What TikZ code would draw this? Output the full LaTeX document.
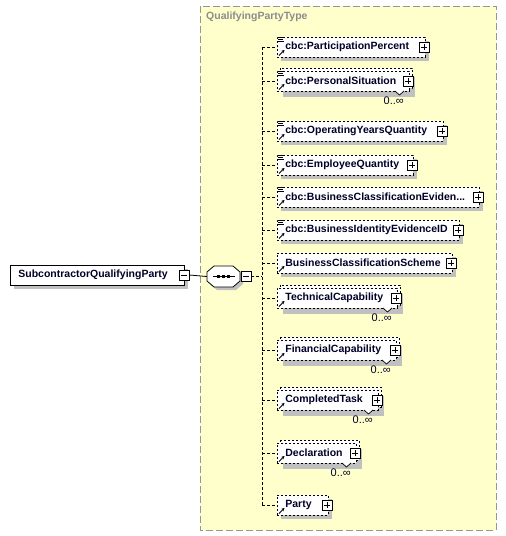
\documentclass[tikz,border=0pt]{standalone}
\usepackage{fontspec}
\setmainfont{Liberation Sans}
\usetikzlibrary{arrows.meta}
\definecolor{bgyellow}{RGB}{255,255,204}
\definecolor{framegray}{RGB}{150,150,150}
\definecolor{shadowgray}{RGB}{192,192,192}
\definecolor{txt}{RGB}{0,0,40}
\definecolor{titlegray}{RGB}{140,140,140}
\tikzset{
  dsh/.style={draw=black,line width=0.8pt,dash pattern=on 2pt off 2pt},
  conn/.style={draw=black,line width=0.8pt,dash pattern=on 3pt off 2pt},
  elem/.style={dsh,fill=white,anchor=west,minimum height=20pt,inner xsep=0pt,inner ysep=0pt,
    text=txt,font=\bfseries\fontsize{10.5}{12}\selectfont},
  pmbox/.style={draw=black,fill=white,line width=0.7pt,minimum size=10pt,inner sep=0pt},
  plusbox/.style={pmbox,path picture={
      \draw[line width=0.7pt] ([xshift=2pt]path picture bounding box.west) -- ([xshift=-2pt]path picture bounding box.east);
      \draw[line width=0.7pt] ([yshift=-2pt]path picture bounding box.north) -- ([yshift=2pt]path picture bounding box.south);}},
  minusbox/.style={pmbox,path picture={
      \draw[line width=0.7pt] ([xshift=2pt]path picture bounding box.west) -- ([xshift=-2pt]path picture bounding box.east);}},
  card/.style={inner sep=0pt,text=txt,font=\fontsize{11}{12}\selectfont},
  refarrow/.style={line width=0.9pt,-{Stealth[length=3pt,width=3.2pt]}}
}
% #1 name, #2 centre y, #3 right edge, #4 text, #5 simple-content icon, #6 multiple
\newcommand\xchild[6]{%
  \pgfmathsetmacro\cW{#3-277}%
  \ifnum#6=1
    \fill[shadowgray] (283,#2-4) rectangle (#3+6,#2+16);
    \draw[dsh,fill=white] (280,#2-13) rectangle (#3+3,#2+7);
  \else
    \fill[shadowgray] (281,#2-6) rectangle (#3+4,#2+14);
  \fi
  \node[elem,minimum width=\cW pt] (#1) at (277,#2) {\makebox[\cW pt][l]{\hspace*{8pt}#4}};
  \ifnum#6=1
    \fill[white] (#3-14,#2+9.6) -- (#3-9.5,#2+14) -- (#3-5,#2+9.6) -- cycle;
    \draw[line width=0.7pt] (#3-14,#2+10) -- (#3-9.5,#2+14) -- (#3-5,#2+10);
    \node[card,anchor=north east] (#1card) at (#3-5,#2+16) {0..∞};
  \fi
  \ifnum#5=1
    \fill[white] (277.5,#2-10.5) rectangle (283.5,#2-5);
    \draw[line width=0.7pt] (278,#2-10) -- (284,#2-10);
    \draw[line width=0.7pt] (278,#2-8) -- (283,#2-8);
    \draw[line width=0.7pt] (278,#2-6) -- (284,#2-6);
  \fi
  \draw[refarrow] (279,#2+8.5) -- (284.5,#2+3);
  \node[plusbox] (#1p) at (#3-1,#2) {};
  \coordinate (#1t) at (262,#2);
  \draw[conn] (#1t) -- (#1.west);
}
\newcommand\octpath[4]{% x1 y1 x2 y2
  (#1+7,#2) -- (#3-7,#2) -- (#3,#2+6) -- (#3,#4-6) -- (#3-7,#4) -- (#1+7,#4) -- (#1,#4-6) -- (#1,#2+6) -- cycle}
\begin{document}
\begin{tikzpicture}[x=1pt,y=-1pt]
\useasboundingbox (0,0) rectangle (506,536);
% type frame
\draw[fill=bgyellow,draw=framegray,line width=1pt,dash pattern=on 7pt off 3pt] (200,6) rectangle (496,530);
\node[anchor=west,inner sep=0pt,text=titlegray,font=\bfseries\fontsize{10.5}{12}\selectfont] (title) at (206,17) {QualifyingPartyType};
% root element
\fill[shadowgray] (14,269) rectangle (188,289);
\node[draw=black,fill=white,line width=0.8pt,anchor=west,minimum width=174pt,minimum height=20pt,inner sep=0pt,
  text=txt,font=\bfseries\fontsize{10.5}{12}\selectfont] (root) at (10,275) {\makebox[174pt][l]{\hspace*{8pt}SubcontractorQualifyingParty}};
\node[minusbox] (rootm) at (184,275) {};
% sequence compositor
\fill[shadowgray] \octpath{210}{269}{243}{290};
\filldraw[fill=white,draw=black,line width=0.8pt] \octpath{207}{266}{240}{287};
\node[inner sep=0pt,minimum width=33pt,minimum height=21pt] (seq) at (223.5,276.5) {};
\draw[line width=0.9pt] ([xshift=-11pt]seq.center) -- ([xshift=11pt]seq.center);
\foreach \dx in {-5,0,5}{\fill ([xshift=\dx pt]seq.center) +(-1.6pt,-1.6pt) rectangle +(1.6pt,1.6pt);}
\node[minusbox] (seqm) at (246,276.5) {};
\draw[line width=0.8pt] (rootm.east) -- (seq.west);
% children
\xchild{c1}{47}{425}{cbc:ParticipationPercent}{1}{0}
\xchild{c2}{81}{409}{cbc:PersonalSituation}{1}{1}
\xchild{c3}{131}{443}{cbc:OperatingYearsQuantity}{1}{0}
\xchild{c4}{165}{413}{cbc:EmployeeQuantity}{1}{0}
\xchild{c5}{197}{479}{cbc:BusinessClassificationEviden...}{1}{0}
\xchild{c6}{230}{459}{cbc:BusinessIdentityEvidenceID}{1}{0}
\xchild{c7}{263}{452}{BusinessClassificationScheme}{0}{0}
\xchild{c8}{298}{397}{TechnicalCapability}{0}{1}
\xchild{c9}{350}{396}{FinancialCapability}{0}{1}
\xchild{c10}{400}{378}{CompletedTask}{0}{1}
\xchild{c11}{453}{356}{Declaration}{0}{1}
\xchild{c12}{505}{328}{Party}{0}{0}
% trunk
\coordinate (tmid) at (262,276.5);
\draw[conn] (c1t) -- (c12t);
\draw[conn] (seqm.east) -- (tmid);
\end{tikzpicture}
\end{document}
